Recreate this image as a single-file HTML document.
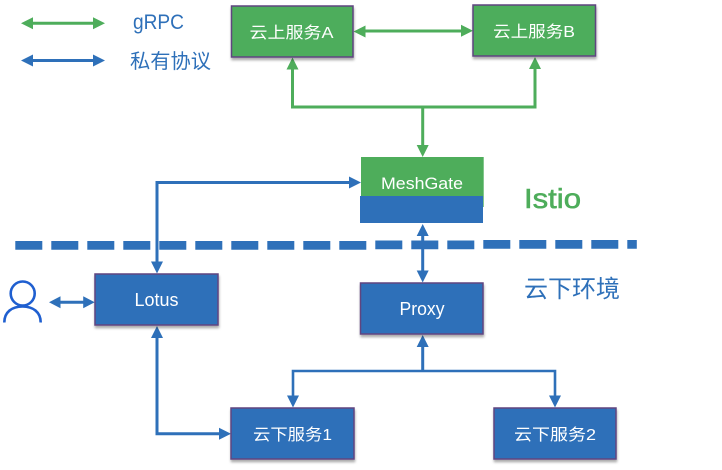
<!DOCTYPE html>
<html><head><meta charset="utf-8"><style>
html,body{margin:0;padding:0;background:#fff}
svg{display:block}
text{font-family:"Liberation Sans","Noto Sans CJK SC",sans-serif;font-weight:400}
</style></head><body>
<svg width="722" height="470" viewBox="0 0 722 470" xmlns="http://www.w3.org/2000/svg">
<defs>
<filter id="s" x="-10%" y="-15%" width="120%" height="135%"><feDropShadow dx="0.5" dy="2.5" stdDeviation="1.3" flood-color="#000" flood-opacity="0.33"/></filter>
</defs>
<!-- dashed divider -->
<g fill="#2E70B9">
<path d="M15.3 241h27v8.7h-27zM51.3 241h27v8.7h-27zM87.3 241h27v8.7h-27zM123.3 241h27v8.7h-27zM159.3 241h27v8.7h-27zM195.3 241h27v8.7h-27zM231.3 241h27v8.7h-27zM267.3 241h27v8.7h-27zM303.3 241h27v8.7h-27zM339.3 241h27v8.7h-27zM375.3 240.500h27v8.7h-27zM411.3 240.500h27v8.7h-27zM447.3 240.500h27v8.7h-27zM483.3 240h27v8.7h-27zM519.3 240h27v8.7h-27zM555.3 240h27v8.7h-27zM591.3 240h27v8.7h-27zM627.3 240h9.5v8.7h-9.5z"/>
</g>
<!-- green connectors -->
<g fill="none" stroke="#4EAD5B" stroke-width="3">
<path d="M30 23.3H95"/>
<path d="M362 31H463" />
<path d="M292.5 66V107H535V66"/>
<path d="M422.7 107V147"/>
</g>
<g fill="#4EAD5B">
<path d="M21 23.3l12-6v12zM105 23.3l-12-6v12z"/>
<path d="M353.5 31.5l12-6v12zM473 30.700l-12-6v12z"/>
<path d="M292.5 57.500l-6 12h12zM535 57l-6 12h12z"/>
<path d="M422.700 157l-6-12h12z"/>
</g>
<!-- blue connectors -->
<g fill="none" stroke="#2E70B9" stroke-width="3">
<path d="M30 60.5H95"/>
<path d="M351 182.5H157V263"/>
<path d="M422.7 234V273"/>
<path d="M157 336V433.700H221"/>
<path d="M58 302.3H86"/>
<path d="M422.7 345V371"/>
<path d="M293 398V371H555V398" stroke-width="2.6"/>
</g>
<g fill="#2E70B9">
<path d="M21 60.5l12-6v12zM105 60.5l-12-6v12z"/>
<path d="M361 182.5l-12-6v12z"/>
<path d="M157 273.500l-6-12h12z"/>
<path d="M422.700 224l-6 12h12zM422.700 282.500l-6-12h12z"/>
<path d="M157 326l-6 12h12zM231 433.700l-12-6v12z"/>
<path d="M49 302.300l11.500-6v12zM94.700 302.300l-11.500-6v12z"/>
<path d="M422.700 335l-6 12h12z"/>
<path d="M293 407.500l-6-12h12zM555 407.500l-6-12h12z"/>
</g>
<!-- boxes -->
<g stroke="#5F4480" stroke-width="1.5">
<rect x="231.500" y="6" width="121.500" height="51" fill="#4EAD5B" filter="url(#s)"/>
<rect x="473" y="5" width="122.500" height="51" fill="#4EAD5B" filter="url(#s)"/>
<rect x="95" y="274" width="123" height="51" fill="#2E70B9" filter="url(#s)"/>
<rect x="360.500" y="283" width="122.500" height="51" fill="#2E70B9" filter="url(#s)"/>
<rect x="231" y="408" width="123" height="51" fill="#2E70B9" filter="url(#s)"/>
<rect x="494" y="408" width="122" height="51" fill="#2E70B9" filter="url(#s)"/>
</g>
<rect x="361" y="157" width="122.700" height="50" fill="#4EAD5B"/>
<rect x="360" y="196" width="123" height="27" fill="#2E70B9"/>
<!-- person -->
<g fill="none" stroke="#1F5FD0" stroke-width="2.6">
<circle cx="22.700" cy="293.500" r="12"/>
<path d="M4.300 322.500C4.300 312 12 306.500 22.500 306.500S40.700 312 40.700 322.500"/>
</g>
<!-- labels -->
<g text-anchor="middle" fill="#fff" font-size="16">
<text x="291.500" y="38" textLength="84" lengthAdjust="spacingAndGlyphs">云上服务A</text>
<text x="534" y="37" textLength="82" lengthAdjust="spacingAndGlyphs">云上服务B</text>
<text x="422" y="189" font-size="17" textLength="82" lengthAdjust="spacingAndGlyphs">MeshGate</text>
<text x="156.500" y="306" font-size="18" textLength="44" lengthAdjust="spacingAndGlyphs">Lotus</text>
<text x="422" y="315" font-size="18" textLength="45" lengthAdjust="spacingAndGlyphs">Proxy</text>
<text x="292.500" y="440" textLength="79" lengthAdjust="spacingAndGlyphs">云下服务1</text>
<text x="555" y="440" textLength="82" lengthAdjust="spacingAndGlyphs">云下服务2</text>
</g>
<text x="133" y="29" font-size="21" fill="#2E70B9" textLength="51" lengthAdjust="spacingAndGlyphs">gRPC</text>
<text x="130" y="68" font-size="20" fill="#2E70B9" textLength="81" lengthAdjust="spacingAndGlyphs">私有协议</text>
<text x="524" y="208" font-size="28" fill="#4EAD5B" stroke="#4EAD5B" stroke-width="0.6" textLength="57" lengthAdjust="spacingAndGlyphs">Istio</text>
<text x="524" y="297" font-size="24" fill="#2E70B9" textLength="96" lengthAdjust="spacingAndGlyphs">云下环境</text>
</svg>
</body></html>
